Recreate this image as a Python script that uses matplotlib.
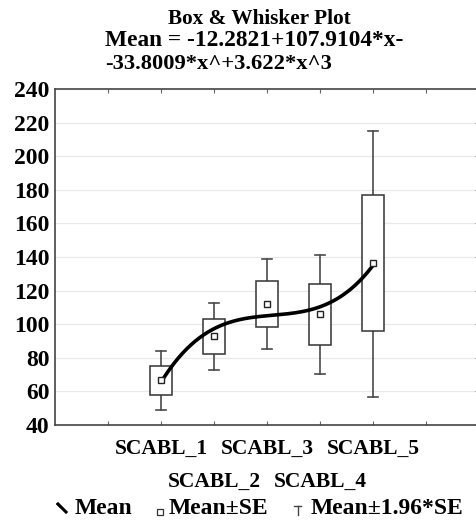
import numpy as np
import matplotlib
matplotlib.use("Agg")
import matplotlib.pyplot as plt
from matplotlib.lines import Line2D

# ---- data ----
categories = ["SCABL_1", "SCABL_2", "SCABL_3", "SCABL_4", "SCABL_5"]
means = [66.5, 92.8, 112.0, 105.8, 136.6]
se_low = [57.7, 82.4, 98.2, 87.6, 96.0]
se_high = [75.3, 102.9, 125.5, 124.1, 176.9]
ci_low = [49.1, 72.9, 85.2, 70.4, 56.9]
ci_high = [84.2, 112.8, 138.6, 141.2, 215.2]
# polynomial fit given in title: c0 + c1*x + c2*x^2 + c3*x^3
fit_coefs = [-12.2821, 107.9104, -33.8009, 3.622]
yticks = [40, 60, 80, 100, 120, 140, 160, 180, 200, 220, 240]

W, H = 476, 521
fig = plt.figure(figsize=(W / 100, H / 100), dpi=100)
FONT = "Liberation Serif"
plt.rcParams["font.family"] = FONT
plt.rcParams["font.weight"] = "bold"

def fx(px):
    return px / W

def fy(py):
    return 1 - py / H

ax = fig.add_axes([fx(55), fy(425), (479 - 55) / W, (425 - 89) / H])
ax.set_xlim(-1, 7)
ax.set_ylim(40, 240)

# grid
for v in yticks[1:-1]:
    ax.axhline(v, color="#e9e9e9", lw=0.9, zorder=0)

xs = np.arange(1, len(categories) + 1)
bw = 0.4
cw = 0.2
for x, m, sl, sh, cl, ch in zip(xs, means, se_low, se_high, ci_low, ci_high):
    ax.plot([x, x], [sh, ch], color="#4a4a4a", lw=1.2, zorder=2)
    ax.plot([x, x], [cl, sl], color="#4a4a4a", lw=1.2, zorder=2)
    ax.plot([x - cw / 2, x + cw / 2], [ch, ch], color="#4a4a4a", lw=1.2, zorder=2)
    ax.plot([x - cw / 2, x + cw / 2], [cl, cl], color="#4a4a4a", lw=1.2, zorder=2)
    ax.add_patch(plt.Rectangle((x - bw / 2, sl), bw, sh - sl, facecolor="white",
                               edgecolor="#333333", lw=1.1, zorder=3))

# fitted curve
xx = np.linspace(1, 5, 200)
yy = np.polyval(fit_coefs[::-1], xx)
ax.plot(xx, yy, color="black", lw=2.6, zorder=4, solid_capstyle="round")

ax.plot(xs, means, linestyle="none", marker="s", markersize=5, markerfacecolor="white",
        markeredgecolor="#222222", markeredgewidth=1.0, zorder=5)

for s in ["left", "bottom", "top", "right"]:
    ax.spines[s].set_color("#444444")
    ax.spines[s].set_linewidth(1.2)

ax.set_yticks(yticks)
ax.set_yticklabels([str(v) for v in yticks], fontsize=17, fontweight="bold", family=FONT)
ax.tick_params(axis="y", left=False, right=True, direction="in", length=3, pad=4,
               color="#666666")

# major ticks: marks at 0..6, labels for odd categories (first row)
ax.xaxis.remove_overlapping_locs = False
ax.set_xticks(range(0, 7))
row1 = ["", categories[0], "", categories[2], "", categories[4], ""]
ax.set_xticklabels(row1, fontsize=15.5, fontweight="bold", family=FONT)
ax.tick_params(axis="x", which="major", bottom=True, top=True, direction="in", length=3,
               pad=10, color="#666666")
# minor ticks: second row of labels
ax.set_xticks([2, 4], minor=True)
ax.set_xticklabels([categories[1], categories[3]], minor=True, fontsize=15.5,
                   fontweight="bold", family=FONT)
ax.tick_params(axis="x", which="minor", bottom=True, top=False, length=0, pad=33.5)

# title
fig.text(fx(259), fy(19), "Box & Whisker Plot", ha="center", va="center",
         fontsize=15.3, fontweight="bold", family=FONT)
fig.text(fx(105), fy(41), "Mean = -12.2821+107.9104*x-", ha="left", va="center",
         fontsize=16.8, fontweight="bold", family=FONT)
fig.text(fx(105), fy(64), "-33.8009*x^+3.622*x^3", ha="left", va="center",
         fontsize=16.2, fontweight="bold", family=FONT)

# legend
ly = 509
fig.add_artist(Line2D([fx(58), fx(66)], [fy(504), fy(512)], color="black", lw=2.2))
fig.add_artist(Line2D([fx(57), fx(60)], [fy(504), fy(507)], color="black", lw=1.0))
fig.text(fx(75), fy(ly), "Mean", ha="left", va="center", fontsize=17,
         fontweight="bold", family=FONT)
fig.add_artist(Line2D([fx(160)], [fy(512)], marker="s", markersize=5, linestyle="none",
                      markerfacecolor="white", markeredgecolor="#333333", markeredgewidth=0.9))
fig.text(fx(169), fy(ly), "Mean±SE", ha="left", va="center", fontsize=17,
         fontweight="bold", family=FONT)
fig.add_artist(Line2D([fx(294), fx(301)], [fy(506), fy(506)], color="#444444", lw=1.0))
fig.add_artist(Line2D([fx(297.5), fx(297.5)], [fy(506), fy(515)], color="#444444", lw=1.0))
fig.text(fx(311), fy(ly), "Mean±1.96*SE", ha="left", va="center", fontsize=17,
         fontweight="bold", family=FONT)

fig.savefig("out.png", dpi=100)
